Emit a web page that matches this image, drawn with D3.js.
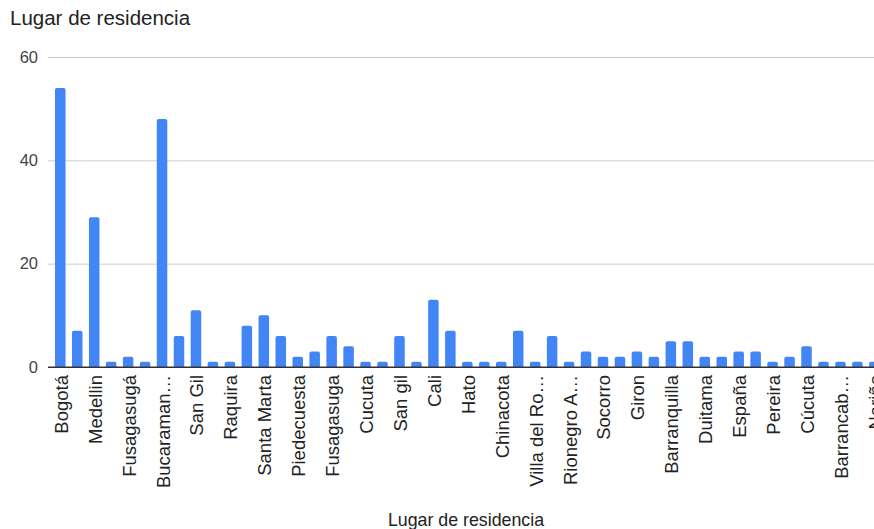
<!DOCTYPE html>
<html>
<head>
<meta charset="utf-8">
<script src="https://cdn.jsdelivr.net/npm/d3@7"></script>
<style>
  body { margin: 0; background: #fff; overflow: hidden; }
  svg { display: block; font-family: Arial, "Liberation Sans", sans-serif; }
</style>
</head>
<body>
<div id="chart"></div>
<script>
// categories as shown on the axis: every other name is readable, the rest are hidden
const labels = [
    "Bogotá", "", "Medellin", "", "Fusagasugá", "", "Bucaraman…", "", "San Gil", "",
    "Raquira", "", "Santa Marta", "", "Piedecuesta", "", "Fusagasuga", "", "Cucuta", "",
    "San gil", "", "Cali", "", "Hato", "", "Chinacota", "", "Villa del Ro…", "",
    "Rionegro A…", "", "Socorro", "", "Giron", "", "Barranquilla", "", "Duitama", "",
    "España", "", "Pereira", "", "Cúcuta", "", "Barrancab…", "", "Nariño"
];
const values = [
    54, 7, 29, 1, 2, 1, 48, 6, 11, 1,
    1, 8, 10, 6, 2, 3, 6, 4, 1, 1,
    6, 1, 13, 7, 1, 1, 1, 7, 1, 6,
    1, 3, 2, 2, 3, 2, 5, 5, 2, 2,
    3, 3, 1, 2, 4, 1, 1, 1, 1
];
const yTicks = [0, 20, 40, 60];

const config = {
    width: 874,
    height: 529,
    plotLeft: 48,
    bandLeft: 51.8,
    step: 16.96,
    baseline: 367,
    top: 57
};

const svg = d3.select("#chart").append("svg")
    .attr("width", config.width)
    .attr("height", config.height);

const idx = values.map((d, i) => i);

const x = d3.scaleBand()
    .domain(idx)
    .range([config.bandLeft, config.bandLeft + config.step * values.length])
    .paddingInner(0.38)
    .paddingOuter(0.19);

const y = d3.scaleLinear()
    .domain([0, 60])
    .range([config.baseline, config.top]);

// title
svg.append("text")
    .attr("x", 10)
    .attr("y", 25)
    .attr("fill", "#222")
    .style("font-size", "20.5px")
    .text("Lugar de residencia");

// grid + y labels
const yAxis = svg.append("g")
    .attr("transform", `translate(${config.plotLeft},0)`)
    .call(d3.axisLeft(y).tickValues(yTicks).tickSize(-(config.width - config.plotLeft)).tickPadding(10));
yAxis.select(".domain").remove();
yAxis.selectAll(".tick line")
    .attr("stroke", (d) => d === 0 ? "#333" : "#ccc");
yAxis.selectAll(".tick text")
    .attr("fill", "#444")
    .style("font-size", "16.5px")
    .style("font-family", "Arial, 'Liberation Sans', sans-serif");

// bars
svg.append("g")
    .selectAll("path")
    .data(values)
    .join("path")
    .attr("fill", "#4285f4")
    .attr("d", (d, i) => {
        const x0 = x(i), w = x.bandwidth(), y0 = y(d), y1 = y(0), r = 2;
        return `M${x0},${y1}V${y0 + r}Q${x0},${y0} ${x0 + r},${y0}H${x0 + w - r}Q${x0 + w},${y0} ${x0 + w},${y0 + r}V${y1}Z`;
    });

// redraw baseline above bars
svg.append("line")
    .attr("x1", config.plotLeft)
    .attr("x2", config.width)
    .attr("y1", y(0))
    .attr("y2", y(0))
    .attr("stroke", "#333");

// x labels, every other category
svg.append("g")
    .selectAll("text")
    .data(idx.filter((i) => i % 2 === 0))
    .join("text")
    .attr("transform", (i) => `translate(${x(i) + x.bandwidth() / 2 + 1},${config.baseline + 8}) rotate(-90)`)
    .attr("text-anchor", "end")
    .attr("dy", "0.35em")
    .attr("fill", "#222")
    .style("font-size", "18.5px")
    .text((i) => labels[i]);

// x title
svg.append("text")
    .attr("x", 466)
    .attr("y", 526)
    .attr("text-anchor", "middle")
    .attr("fill", "#222")
    .style("font-size", "17.8px")
    .text("Lugar de residencia");
</script>
</body>
</html>
